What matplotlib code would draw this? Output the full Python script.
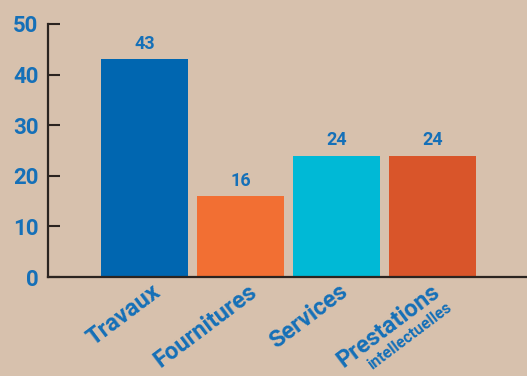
import matplotlib.pyplot as plt
import numpy as np

categories = ["Travaux", "Fournitures", "Services", "Prestations"]
subtitles = ["", "", "", "intellectuelles"]
values = [43, 16, 24, 24]
bar_colors = ["#0066B0", "#F26F33", "#00B9D6", "#D9552A"]
yticks = [0, 10, 20, 30, 40, 50]

BG = "#D7C1AD"
TXT = "#1570B8"
AXC = "#2B2420"

plt.rcParams["font.family"] = ["Roboto", "DejaVu Sans"]

fig = plt.figure(figsize=(5.27, 3.76), dpi=100, facecolor=BG)
ax = fig.add_axes([48 / 527, 99 / 376, 1 - 48 / 527, 253 / 376])
ax.set_facecolor(BG)

x = np.arange(len(categories))
ax.bar(x, values, width=0.906, color=bar_colors, zorder=2)

for xi, v in zip(x, values):
    ax.annotate(str(v), (xi, v), xytext=(0, 4.5), textcoords="offset points",
                ha="center", va="bottom", color=TXT, fontsize=13, fontweight="bold")

ax.set_xlim(-1.005, 3.984)
ax.set_ylim(0, 50)
ax.set_yticks(yticks)
ax.set_xticks([])

for s in ["top", "right"]:
    ax.spines[s].set_visible(False)
for s in ["left", "bottom"]:
    ax.spines[s].set_color(AXC)
    ax.spines[s].set_linewidth(1.6)

ax.tick_params(axis="y", direction="in", length=8.6, width=1.5, color=AXC,
               labelcolor=TXT, labelsize=16, pad=7)
for lbl in ax.get_yticklabels():
    lbl.set_fontweight("bold")

# rotated category labels (offsets in px)
offsets = [7, 7, 2, -2]
for xi, name, sub, dx in zip(x, categories, subtitles, offsets):
    ax.annotate(name, (xi, 0), xytext=(dx * 0.72, -2), textcoords="offset points",
                ha="right", va="top", rotation=37, rotation_mode="anchor",
                color=TXT, fontsize=17, fontweight="bold")
    if sub:
        ax.annotate(sub, (xi, 0), xytext=(9.5, -16), textcoords="offset points",
                    ha="right", va="top", rotation=37, rotation_mode="anchor",
                    color=TXT, fontsize=11.5, fontweight="bold")

fig.savefig("out.png", dpi=100, facecolor=BG)
